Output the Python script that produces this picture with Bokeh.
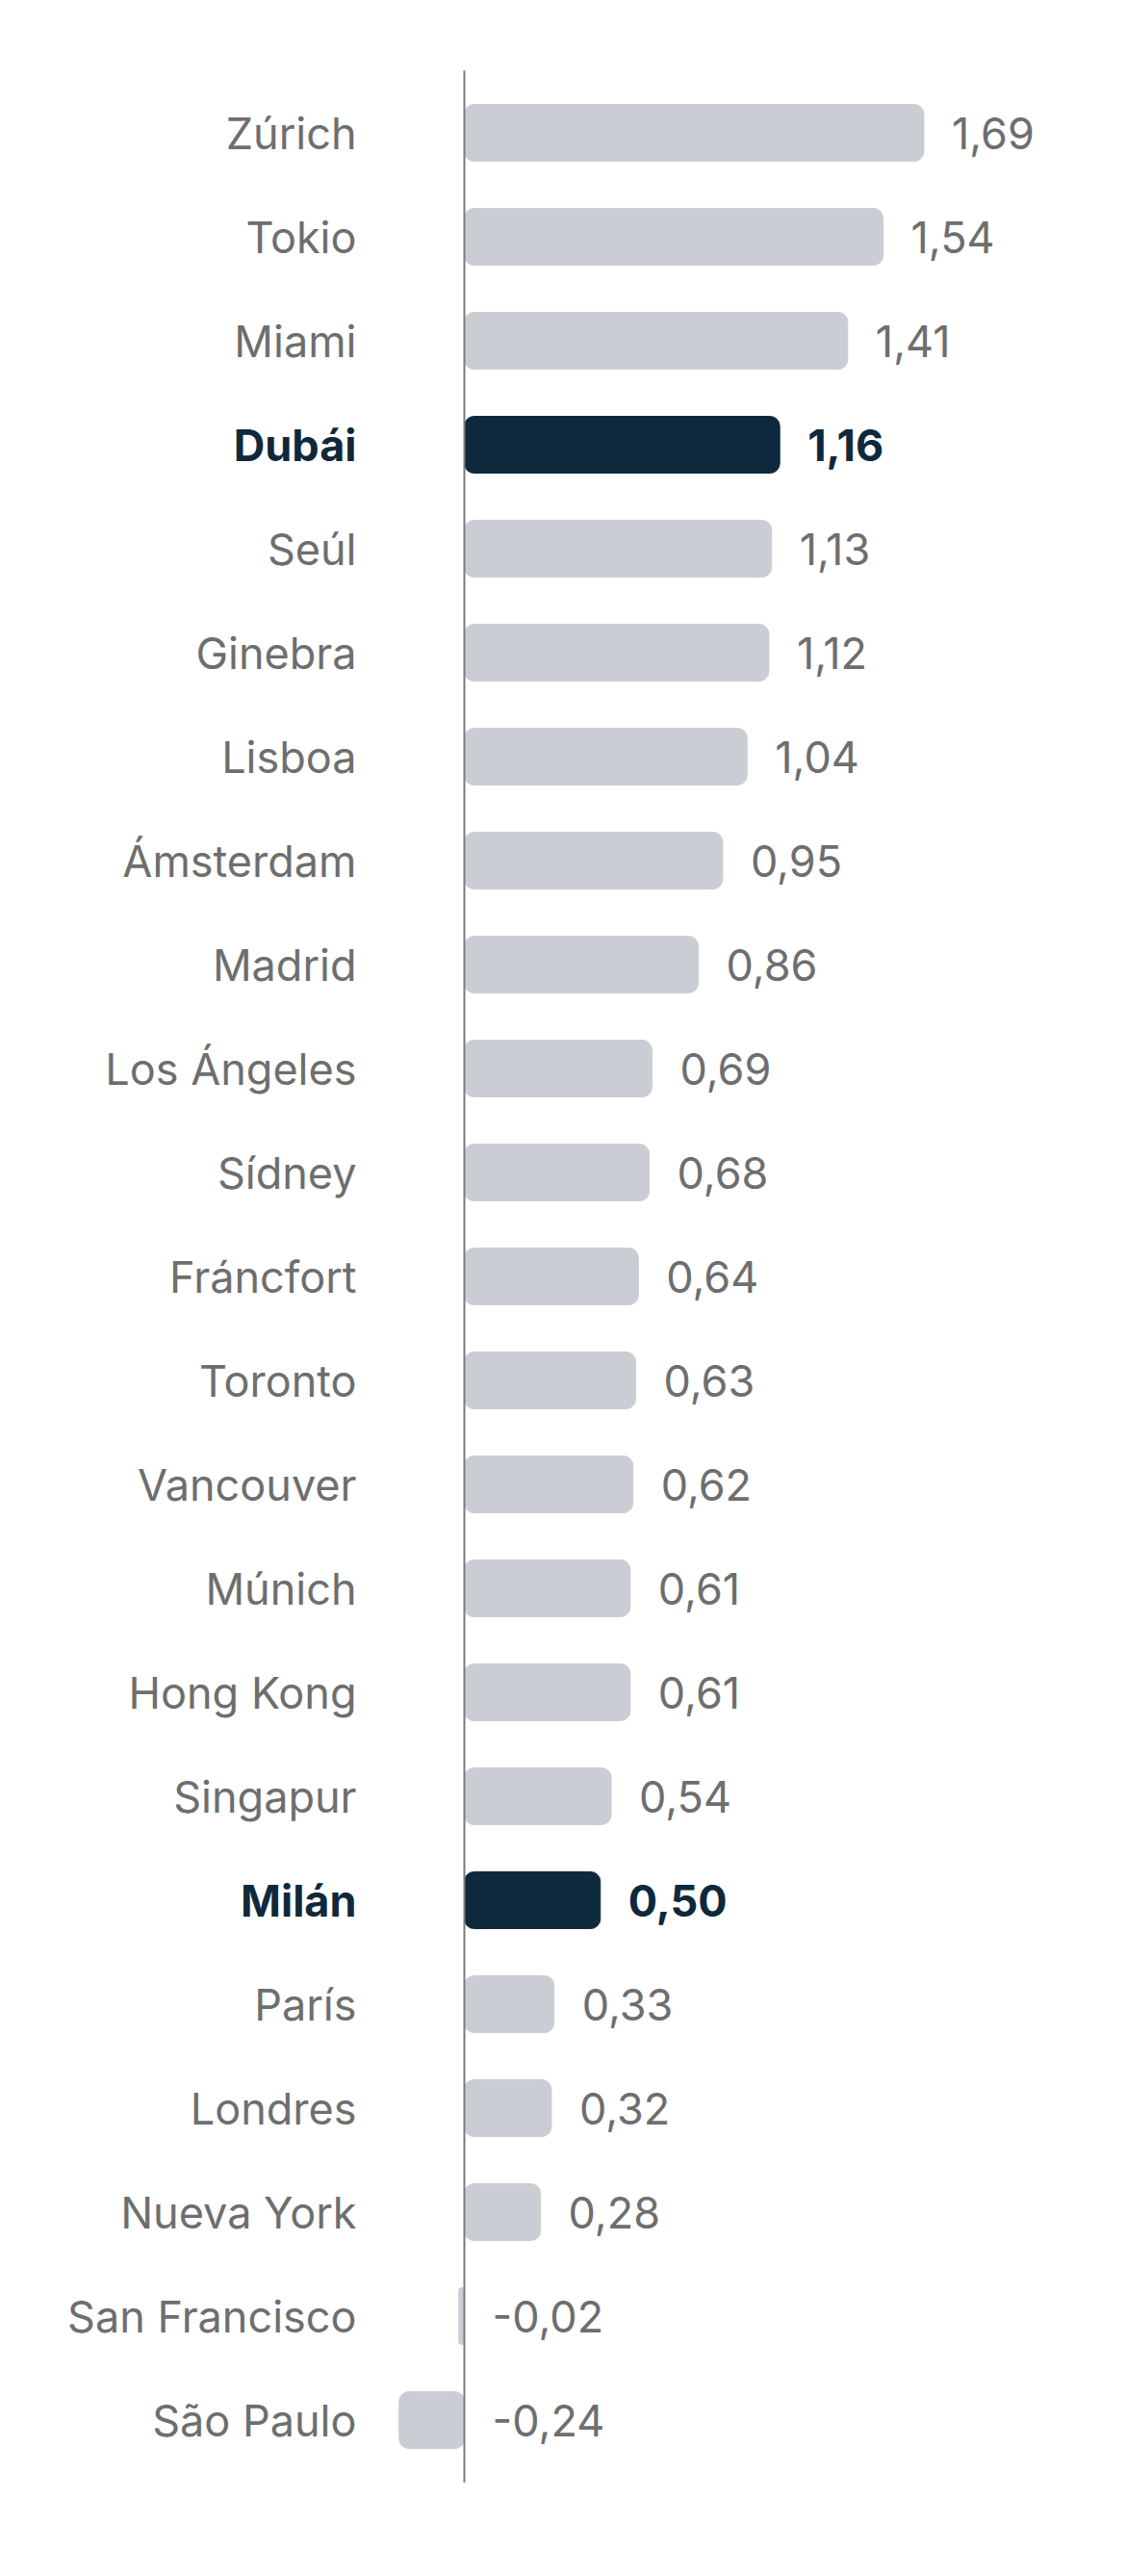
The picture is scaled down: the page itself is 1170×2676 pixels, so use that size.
from bokeh.plotting import figure
from bokeh.models import Range1d, ColumnDataSource
from bokeh.core.properties import value
from bokeh.embed import file_html
from bokeh.resources import INLINE

cities = ["Zúrich", "Tokio", "Miami", "Dubái", "Seúl", "Ginebra", "Lisboa",
          "Ámsterdam", "Madrid", "Los Ángeles", "Sídney", "Fráncfort", "Toronto",
          "Vancouver", "Múnich", "Hong Kong", "Singapur", "Milán", "París",
          "Londres", "Nueva York", "San Francisco", "São Paulo"]
values = [1.69, 1.54, 1.41, 1.16, 1.13, 1.12, 1.04, 0.95, 0.86, 0.69, 0.68,
          0.64, 0.63, 0.62, 0.61, 0.61, 0.54, 0.50, 0.33, 0.32, 0.28, -0.02, -0.24]
highlight = ["Dubái", "Milán"]

GREY_BAR = "#CACDD3"
DARK = "#0F293C"
GREY_TXT = "#6E6E6E"
FONT = "Inter"

rows = list(range(len(cities)))
is_hl = [c in highlight for c in cities]
labels_val = [f"{v:.2f}".replace(".", ",") for v in values]

W, H = 1154, 2660
scale = 282.5
ax_px = 482.0
x0 = -ax_px / scale
x1 = x0 + W / scale
row_px = 108.0
top = -137.5 / row_px
bottom = top + H / row_px

p = figure(width=W, height=H, output_backend="svg", toolbar_location=None,
           x_range=Range1d(x0, x1), y_range=Range1d(bottom, top),
           min_border=0, min_border_left=0, min_border_right=0,
           min_border_top=0, min_border_bottom=0)
p.axis.visible = False
p.grid.visible = False
p.outline_line_color = None
p.background_fill_color = "white"
p.border_fill_color = "white"

src = ColumnDataSource(dict(
    y=rows, v=values, city=cities, lab=labels_val,
    lx=[max(v, 0) for v in values],
    fill=[DARK if h else GREY_BAR for h in is_hl],
    tcol=[DARK if h else GREY_TXT for h in is_hl],
    tstyle=["bold" if h else "normal" for h in is_hl],
))

p.hbar(y="y", left=0, right="v", height=0.546, source=src,
       fill_color="fill", line_color="fill", border_radius=10)

p.segment(x0=[0], y0=[-0.6], x1=[0], y1=[len(cities) - 1 + 0.6],
          line_color="#7A7A7A", line_width=2)

p.text(x=0, y="y", text="city", source=src, x_offset=-112,
       text_align="right", text_baseline="middle",
       text_font=value(FONT), text_font_size="45px",
       text_color="tcol", text_font_style="tstyle")

p.text(x="lx", y="y", text="lab", source=src, x_offset=29,
       text_align="left", text_baseline="middle",
       text_font=value(FONT), text_font_size="45px",
       text_color="tcol", text_font_style="tstyle")

open("out.html", "w").write(file_html(p, INLINE))
